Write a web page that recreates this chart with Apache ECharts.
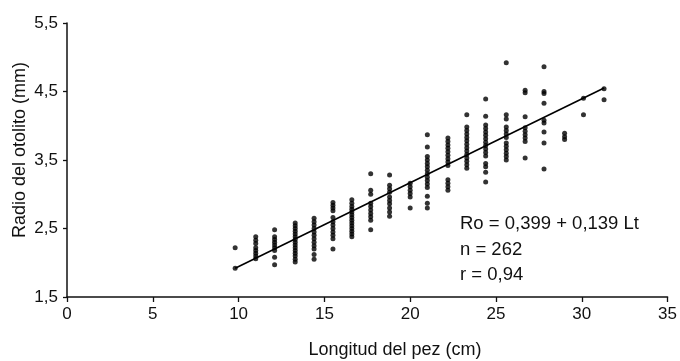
<!DOCTYPE html>
<html>
<head>
<meta charset="utf-8">
<script src="https://cdn.jsdelivr.net/npm/echarts@6/dist/echarts.min.js"></script>
<style>
  html, body { margin: 0; padding: 0; background: #fff; }
  #chart { width: 680px; height: 361px; }
</style>
</head>
<body>
<div id="chart"></div>
<script>
/* longitudes (cm) de cada columna de puntos */
const lengths = [9.8, 11, 12.1, 13.3, 14.4, 15.5, 16.6, 17.7, 18.8, 20, 21, 22.2, 23.3, 24.4, 25.6, 26.7, 27.8, 29, 30.1, 31.3];
/* radios del otolito (mm) por columna */
const radii = [
  [2.22, 1.92],
  [2.38, 2.33, 2.28, 2.22, 2.18, 2.14, 2.1, 2.06],
  [2.48, 2.38, 2.34, 2.3, 2.26, 2.22, 2.18, 2.08, 1.97],
  [2.58, 2.54, 2.5, 2.46, 2.42, 2.38, 2.34, 2.3, 2.26, 2.22, 2.18, 2.14, 2.1, 2.05, 2.01],
  [2.65, 2.6, 2.55, 2.5, 2.45, 2.4, 2.35, 2.3, 2.25, 2.2, 2.12, 2.05],
  [2.88, 2.84, 2.8, 2.76, 2.66, 2.6, 2.55, 2.5, 2.45, 2.4, 2.35, 2.2],
  [2.92, 2.87, 2.82, 2.78, 2.74, 2.7, 2.66, 2.62, 2.58, 2.54, 2.5, 2.46, 2.42, 2.38],
  [3.3, 3.06, 3.0, 2.87, 2.82, 2.77, 2.72, 2.67, 2.62, 2.48],
  [3.28, 3.13, 3.08, 3.03, 2.96, 2.91, 2.86, 2.8, 2.74, 2.68],
  [3.16, 3.11, 3.06, 3.01, 2.96, 2.8],
  [3.87, 3.69, 3.55, 3.5, 3.45, 3.4, 3.35, 3.3, 3.25, 3.2, 3.15, 3.1, 2.97, 2.87, 2.8],
  [3.82, 3.77, 3.72, 3.67, 3.62, 3.57, 3.52, 3.47, 3.42, 3.21, 3.16, 3.11, 3.06],
  [4.16, 3.98, 3.93, 3.88, 3.83, 3.78, 3.73, 3.68, 3.63, 3.58, 3.53, 3.48, 3.43, 3.38],
  [4.39, 4.14, 4.01, 3.96, 3.91, 3.86, 3.81, 3.76, 3.71, 3.66, 3.61, 3.56, 3.45, 3.4, 3.32, 3.18],
  [4.92, 4.16, 4.1, 3.98, 3.93, 3.88, 3.83, 3.75, 3.7, 3.65, 3.6, 3.55, 3.5],
  [4.52, 4.48, 4.13, 3.97, 3.92, 3.87, 3.82, 3.77, 3.53],
  [4.86, 4.5, 4.47, 4.33, 4.08, 4.04, 3.91, 3.75, 3.37],
  [3.89, 3.84, 3.8],
  [4.4, 4.16],
  [4.54, 4.38]
];
/* recta de regresión, extremos */
const fitLine = [[9.8, 1.92], [31.3, 4.55]];
/* textos */
const xTicks = [0, 5, 10, 15, 20, 25, 30, 35];
const yTicks = [1.5, 2.5, 3.5, 4.5, 5.5];
const statLines = ["Ro = 0,399 + 0,139 Lt", "n = 262", "r = 0,94"];

let points = [];
lengths.map((x, i) => {
  radii[i].map((y) => {
    points.push([x, y]);
  });
});

const font = "Liberation Sans";
const ink = "#111";

var myChart = echarts.init(document.getElementById("chart"));
var option = {
  animation: false,
  grid: { left: 67, right: 10, top: 23, bottom: 64 },
  xAxis: {
    type: "value",
    min: xTicks[0],
    max: xTicks[xTicks.length - 1],
    interval: 5,
    splitLine: { show: false },
    axisLine: { show: true, onZero: false, lineStyle: { color: ink, width: 1.5 } },
    axisTick: { show: true, length: 5, lineStyle: { color: ink, width: 1.3 } },
    axisLabel: { color: ink, fontFamily: font, fontSize: 17, margin: 9 },
  },
  yAxis: {
    type: "value",
    min: yTicks[0],
    max: yTicks[yTicks.length - 1],
    interval: 1,
    splitLine: { show: false },
    axisLine: { show: true, onZero: false, lineStyle: { color: ink, width: 1.5 } },
    axisTick: { show: true, length: 4, lineStyle: { color: ink, width: 1.3 } },
    axisLabel: {
      color: ink,
      fontFamily: font,
      fontSize: 17,
      margin: 9,
      formatter: (v) => v.toFixed(1).replace(".", ","),
    },
  },
  series: [
    {
      type: "scatter",
      data: points,
      symbol: "circle",
      symbolSize: 5,
      itemStyle: { color: "#000" },
      z: 3,
    },
    {
      type: "line",
      data: fitLine,
      showSymbol: false,
      lineStyle: { color: "#000", width: 1.6 },
      z: 2,
    },
  ],
  graphic: [
    {
      type: "text",
      x: 20,
      y: 150,
      rotation: Math.PI / 2,
      style: {
        text: "Radio del otolito (mm)",
        fill: ink,
        font: "18px " + font,
        align: "center",
        verticalAlign: "middle",
      },
    },
    {
      type: "text",
      x: 395,
      y: 350,
      style: {
        text: "Longitud del pez (cm)",
        fill: ink,
        font: "18px " + font,
        align: "center",
        verticalAlign: "middle",
      },
    },
  ].concat(
    statLines.map((t, i) => ({
      type: "text",
      x: 460,
      y: 224 + i * 25.5,
      style: {
        text: t,
        fill: ink,
        font: "18.5px " + font,
        align: "left",
        verticalAlign: "middle",
      },
    }))
  ),
};
myChart.setOption(option);
</script>
</body>
</html>
